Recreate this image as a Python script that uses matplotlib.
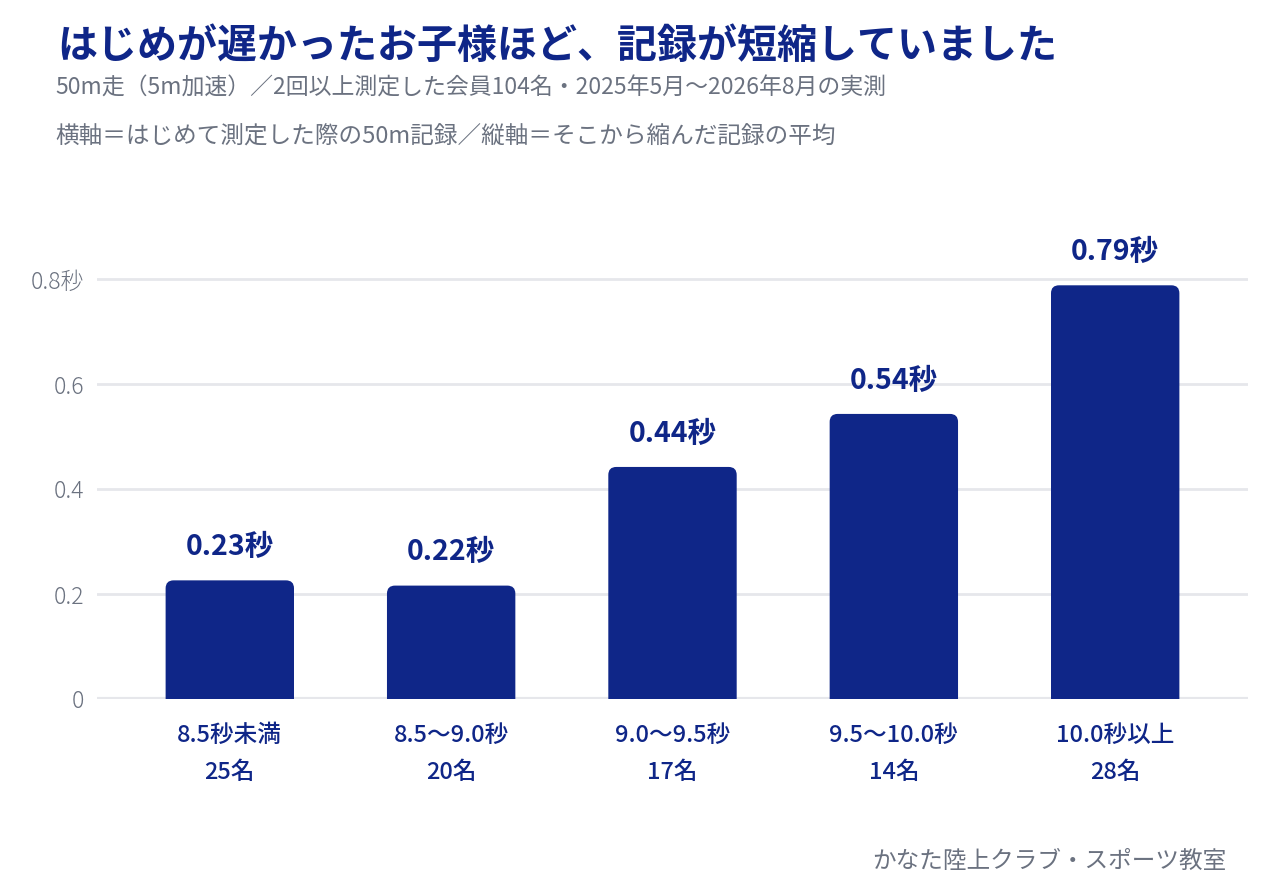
import matplotlib
matplotlib.use("Agg")
import matplotlib.pyplot as plt
from matplotlib.path import Path
from matplotlib.patches import PathPatch

plt.rcParams["font.family"] = ["Noto Sans CJK JP", "DejaVu Sans"]

# data
categories = ["8.5秒未満", "8.5〜9.0秒", "9.0〜9.5秒", "9.5〜10.0秒", "10.0秒以上"]
members = [25, 20, 17, 14, 28]
mean_gain = [0.226, 0.216, 0.442, 0.543, 0.788]
yticks = [0, 0.2, 0.4, 0.6, 0.8]
ytick_labels = ["0", "0.2", "0.4", "0.6", "0.8秒"]

NAVY = "#0F2688"
GREY = "#6B7280"
GRID = "#E6E7EB"


def round_top(ax, bar, radius_px=8):
    # swap a plain bar for one with rounded top corners
    x0, y0 = bar.get_x(), bar.get_y()
    w, h = bar.get_width(), bar.get_height()
    p0 = ax.transData.transform((0, 0))
    p1 = ax.transData.transform((1, 1))
    rx = radius_px / (p1[0] - p0[0])
    ry = radius_px / (p1[1] - p0[1])
    x1, y1 = x0 + w, y0 + h
    verts = [
        (x0, y0), (x0, y1 - ry), (x0, y1), (x0 + rx, y1),
        (x1 - rx, y1), (x1, y1), (x1, y1 - ry),
        (x1, y0), (x0, y0),
    ]
    codes = [
        Path.MOVETO, Path.LINETO, Path.CURVE3, Path.CURVE3,
        Path.LINETO, Path.CURVE3, Path.CURVE3,
        Path.LINETO, Path.CLOSEPOLY,
    ]
    patch = PathPatch(Path(verts, codes), facecolor=bar.get_facecolor(),
                      edgecolor="none", zorder=3)
    bar.remove()
    ax.add_patch(patch)


fig = plt.figure(figsize=(12.8, 8.9), dpi=100)
ax = fig.add_axes([97 / 1280, 1 - 699 / 890, 1151 / 1280, 498.75 / 890])

x = list(range(len(categories)))
bars = ax.bar(x, mean_gain, width=0.58, color=NAVY, zorder=3)
ax.set_xlim(-0.6, 4.6)
ax.set_ylim(0, 0.95)
for b in list(bars):
    round_top(ax, b)

for v, xi in zip(mean_gain, x):
    ax.annotate(f"{v:.2f}秒", (xi, v), xytext=(0, 14), textcoords="offset points",
                ha="center", va="bottom", fontsize=20.5, fontweight="bold", color=NAVY)

ax.set_yticks(yticks)
ax.set_yticklabels(ytick_labels)
ax.set_xticks(x)
ax.set_xticklabels([f"{c}\n{n}名" for c, n in zip(categories, members)],
                   linespacing=1.75)
ax.tick_params(axis="y", length=0, pad=9, labelsize=16.5, labelcolor=GREY)
ax.tick_params(axis="x", length=0, pad=18, labelsize=17, labelcolor=NAVY)
for lab in ax.get_yticklabels():
    lab.set_fontweight("light")
for lab in ax.get_xticklabels():
    lab.set_fontweight("medium")

ax.grid(axis="y", color=GRID, linewidth=2, zorder=0)
ax.set_axisbelow(True)
for s in ax.spines.values():
    s.set_visible(False)
ax.axhline(0, color=GRID, linewidth=3, zorder=2)

fig.text(57 / 1280, 1 - 46 / 890, "はじめが遅かったお子様ほど、記録が短縮していました",
         fontsize=28.8, fontweight="bold", color=NAVY, va="center", ha="left")
fig.text(55 / 1280, 1 - 88 / 890,
         "50m走（5m加速）／2回以上測定した会員104名・2025年5月〜2026年8月の実測",
         fontsize=16.5, color=GREY, va="center", ha="left")
fig.text(55 / 1280, 1 - 137 / 890,
         "横軸＝はじめて測定した際の50m記録／縦軸＝そこから縮んだ記録の平均",
         fontsize=17, color=GREY, va="center", ha="left")
fig.text(1226 / 1280, 1 - 861 / 890, "かなた陸上クラブ・スポーツ教室",
         fontsize=17, color=GREY, va="center", ha="right")

fig.savefig("out.png", dpi=100)
